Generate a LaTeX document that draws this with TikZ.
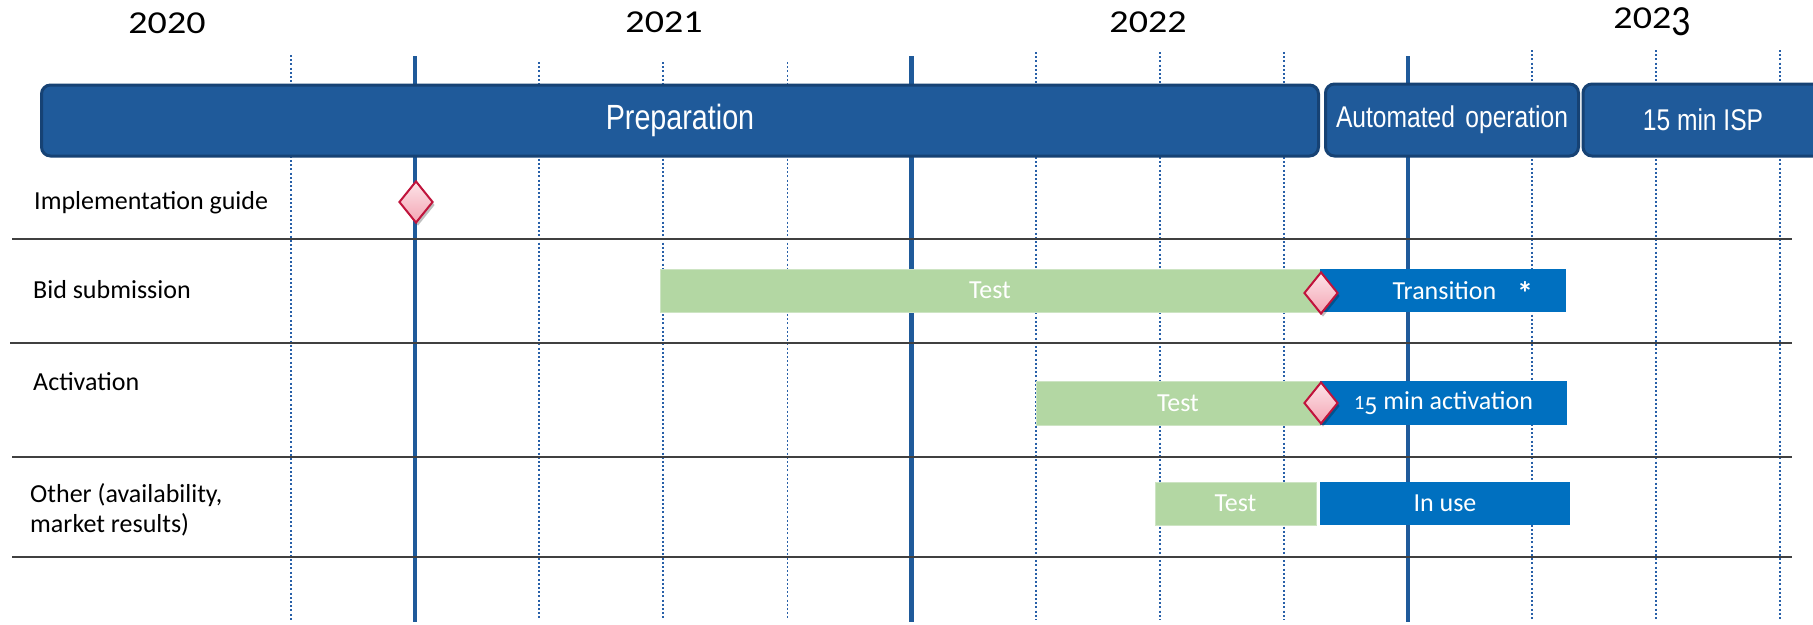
\documentclass[tikz,border=0pt]{standalone}
\usepackage{fontspec}
\usepackage{graphicx}
\setmainfont{Carlito}
\newfontfamily\narrowfont[FakeStretch=0.82]{Liberation Sans}
\usetikzlibrary{shapes.geometric,shadows}
\definecolor{topblue}{RGB}{31,90,154}
\definecolor{topedge}{RGB}{22,66,116}
\definecolor{barblue}{RGB}{0,112,192}
\definecolor{bargreen}{RGB}{179,215,163}
\definecolor{greenedge}{RGB}{205,228,195}
\definecolor{gridblue}{RGB}{40,96,168}
\definecolor{solidblue}{RGB}{31,90,154}
\definecolor{sepgray}{RGB}{64,64,64}
\definecolor{dmedge}{RGB}{192,20,60}
\definecolor{dmtop}{RGB}{253,228,232}
\definecolor{dmbot}{RGB}{243,165,180}
\newcommand{\yrtxt}[1]{\scalebox{1}[0.84]{#1}}
\begin{document}
\begin{tikzpicture}[x=1pt,y=-1pt,
  phasebox/.style={draw=topedge, line width=3pt, fill=topblue, rounded corners=9pt,
    inner sep=0pt, text=white, font=\narrowfont\fontsize{30}{36}\selectfont},
  greenbar/.style={fill=bargreen, draw=greenedge, line width=1pt, inner sep=0pt,
    minimum height=43pt, text=white, font=\fontsize{26}{31}\selectfont},
  bluebar/.style={fill=barblue, inner sep=0pt, minimum height=43pt, text=white,
    font=\fontsize{26}{31}\selectfont},
  rowlabel/.style={anchor=west, inner sep=0pt, align=left, text=black,
    font=\fontsize{26}{30}\selectfont},
  yearlabel/.style={inner sep=0pt, text=black, font=\fontsize{38}{44}\selectfont},
  milestone/.style={diamond, draw=dmedge, line width=2pt, top color=dmtop, bottom color=dmbot,
    inner sep=0pt, minimum width=34pt, minimum height=42pt,
    drop shadow={shadow xshift=2pt, shadow yshift=-3pt, opacity=0.25, fill=black}},
  dotgrid/.style={draw=gridblue, line width=1.8pt, dash pattern=on 2pt off 2.2pt},
  solidgrid/.style={draw=solidblue, line width=4.5pt},
  sepline/.style={draw=sepgray, line width=2.2pt}
]
\useasboundingbox (0,0) rectangle (1813,624);
\clip (0,0) rectangle (1813,624);
\fill[white] (0,0) rectangle (1813,624);

% years
\node[yearlabel] (y2020) at (167,23) {\yrtxt{2020}};
\node[yearlabel] (y2021) at (664,22) {\yrtxt{2021}};
\node[yearlabel] (y2022) at (1148,22) {\yrtxt{2022}};
\node[yearlabel, anchor=base] (y2023) at (1652,28) {\yrtxt{202\raisebox{-0.22em}{\scalebox{1}[1.35]{3}}}};

% vertical grid
\foreach \k/\tp in {0/55,2/62,3/62,4/62,6/52,7/52,8/52,10/50,11/50,12/50} {
  \coordinate (d\k t) at (291+124.1*\k, \tp);
  \coordinate (d\k b) at (291+124.1*\k, 620);
  \draw[dotgrid] (d\k t) -- (d\k b);
}
\foreach \k in {1,5,9} {
  \coordinate (s\k t) at (291+124.1*\k, 56);
  \coordinate (s\k b) at (291+124.1*\k, 622);
  \draw[solidgrid] (s\k t) -- (s\k b);
}

% horizontal separators
\foreach \i/\yy/\xs in {1/239/12,2/343/10,3/457/12,4/557/12} {
  \coordinate (h\i l) at (\xs,\yy);
  \coordinate (h\i r) at (1792,\yy);
  \draw[sepline] (h\i l) -- (h\i r);
}

% phases
\node[phasebox, minimum width=1277pt, minimum height=71pt,
  font=\narrowfont\fontsize{35}{40}\selectfont] (prep) at (680,120.5) {Preparation};
\node[phasebox, minimum width=253pt, minimum height=72pt] (auto) at (1452,120) {Automated\hspace{0.12em} operation};
\node[phasebox, minimum width=250pt, minimum height=72pt] (isp) at (1708,120) {};
\node[inner sep=0pt, text=white, font=\narrowfont\fontsize{30}{36}\selectfont] (isptext) at (1703,120) {15 min ISP};

% row labels
\node[rowlabel] (impl) at (34,203) {Implementation guide};
\node[rowlabel] (bid) at (33,290) {Bid submission};
\node[rowlabel] (act) at (33,382) {Activation};
\node[rowlabel] (oth) at (30,510) {Other (availability,\\market results)};

% bars
\node[greenbar, minimum width=660pt] (bidtest) at (990,290.5) {Test};
\node[bluebar, minimum width=246pt] (bidtrans) at (1443,290.5) {};
\node[inner sep=0pt, text=white, font=\fontsize{26}{31}\selectfont] (transtext) at (1444.5,291) {Transition};
\node[inner sep=0pt, text=white, font=\bfseries\fontsize{32}{36}\selectfont] (star) at (1525,293) {*};

\node[greenbar, minimum width=284pt, minimum height=44pt] (acttest) at (1178,403) {Test};
\node[bluebar, minimum width=247pt, minimum height=44pt] (act15) at (1443.5,403)
  {\scalebox{0.78}{1}\raisebox{-0.2em}{5} min activation};

\node[greenbar, minimum width=161pt] (othtest) at (1235.5,503.5) {Test};
\node[bluebar, minimum width=250pt] (othuse) at (1445,503.5) {In use};

% milestones
\node[milestone] (m1) at (416,202) {};
\node[milestone] (m2) at (1321,293) {};
\node[milestone] (m3) at (1321,403) {};
\end{tikzpicture}
\end{document}
